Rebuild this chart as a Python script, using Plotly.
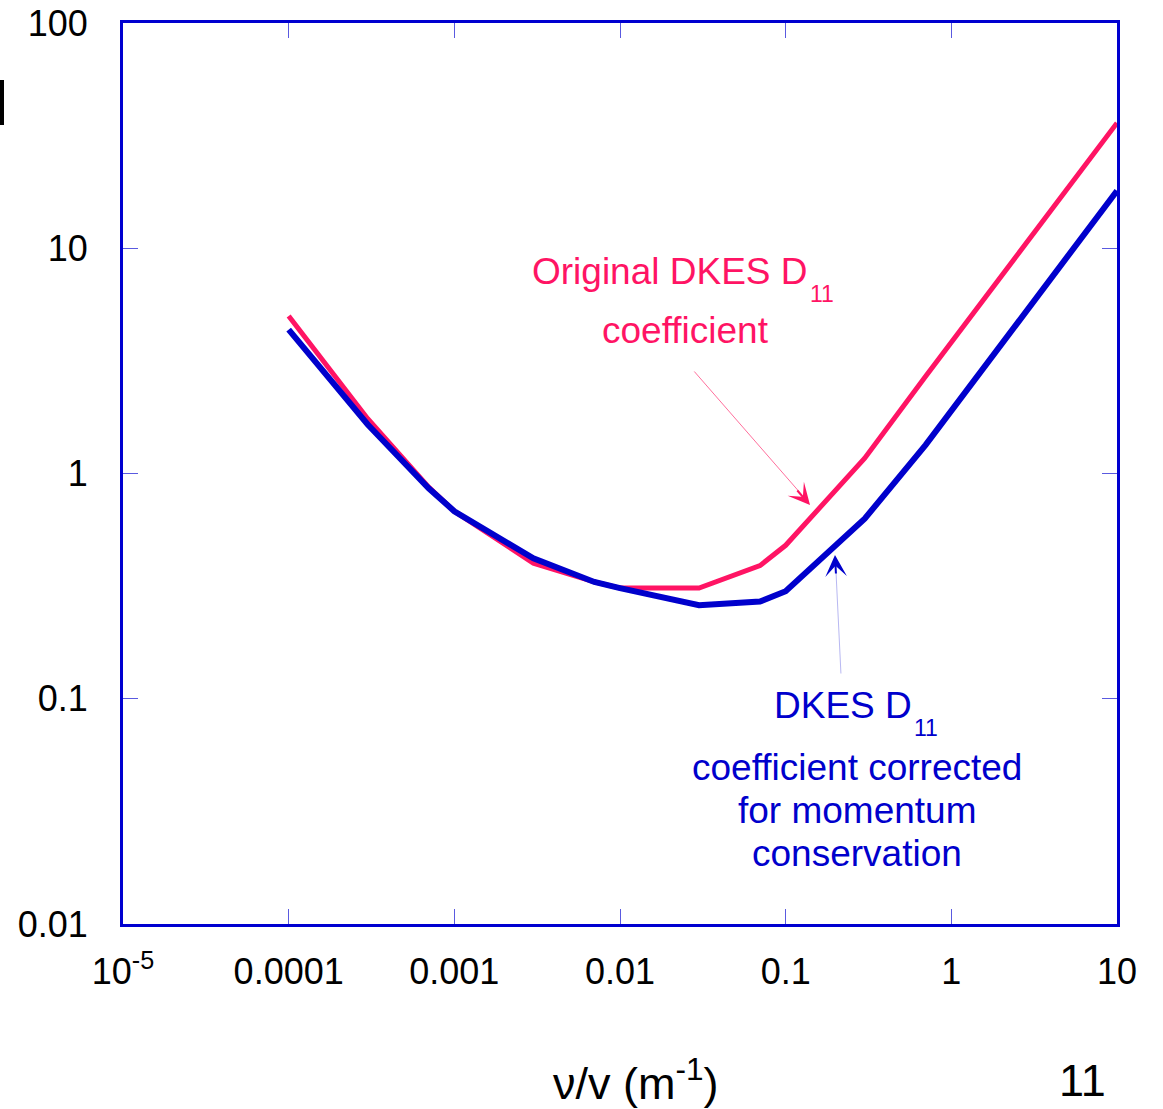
import plotly.graph_objects as go

x_orig = [1e-4, 3e-4, 7e-4, 1e-3, 3e-3, 7e-3, 1e-2, 3e-2, 7e-2, 0.1, 0.3, 0.7, 10]
y_orig = [5.0, 1.75, 0.87, 0.68, 0.40, 0.33, 0.31, 0.31, 0.39, 0.48, 1.17, 2.7, 36]
x_corr = [1e-4, 3e-4, 7e-4, 1e-3, 3e-3, 7e-3, 1e-2, 3e-2, 7e-2, 0.1, 0.3, 0.7, 10]
y_corr = [4.35, 1.65, 0.86, 0.68, 0.42, 0.33, 0.31, 0.26, 0.27, 0.30, 0.63, 1.34, 18]

x_tickvals = [1e-5, 1e-4, 1e-3, 1e-2, 1e-1, 1, 10]
x_ticktext = ["10<sup>-5</sup>", "0.0001", "0.001", "0.01", "0.1", "1", "10"]
y_tickvals = [0.01, 0.1, 1, 10, 100]
y_ticktext = ["0.01", "0.1", "1", "10", "100"]

PINK = "#FF1464"
BLUE = "#0000CC"
FRAME = "#0000D0"
TICK = "#5A5AE0"
FONT = "Liberation Sans, Arial, sans-serif"

fig = go.Figure()
fig.add_trace(go.Scatter(x=x_orig, y=y_orig, mode="lines",
                         line=dict(color=PINK, width=5), showlegend=False))
fig.add_trace(go.Scatter(x=x_corr, y=y_corr, mode="lines",
                         line=dict(color=BLUE, width=6), showlegend=False))

axis_common = dict(
    type="log", showgrid=False, zeroline=False, automargin=False,
    showline=True, linecolor=FRAME, linewidth=3, mirror="ticks",
    ticks="inside", ticklen=15, tickwidth=1, tickcolor=TICK,
    tickfont=dict(family=FONT, size=36, color="black"),
)

fig.update_xaxes(range=[-5, 1], tickvals=x_tickvals, ticktext=x_ticktext,
                 ticklabelstandoff=14, **axis_common)
fig.update_yaxes(range=[-2, 2], tickvals=y_tickvals, ticktext=y_ticktext,
                 ticklabelstandoff=25, **axis_common)

W, H = 994, 901
def px(xp):
    return (xp - 123) / W
def py(yp):
    return (924 - yp) / H
def lx(xp):
    return -5 + (xp - 123) / (W / 6)
def ly(yp):
    return 2 - (yp - 23) / (H / 4)

def label(text, xp, yp, size, color):
    return dict(xref="paper", yref="paper", x=px(xp), y=py(yp), text=text,
                showarrow=False, font=dict(family=FONT, size=size, color=color),
                xanchor="center", yanchor="middle")

TF = 37
ann = []
ann.append(label("Original DKES D", 670, 271, TF, PINK))
ann.append(label("11", 822, 294, 23, PINK))
ann.append(label("coefficient", 685, 330, TF, PINK))
# pink arrow: thin shaft + head
ann.append(dict(x=lx(802), y=ly(495), xref="x", yref="y", ax=lx(693), ay=ly(370), axref="x", ayref="y",
                showarrow=True, arrowhead=0, arrowwidth=1, arrowcolor="#FF6F9C", text=""))
ann.append(dict(x=lx(810), y=ly(505), xref="x", yref="y", ax=lx(796), ay=ly(489), axref="x", ayref="y",
                showarrow=True, arrowhead=3, arrowsize=1.8, arrowwidth=2, arrowcolor=PINK, text=""))
# blue labels
ann.append(label("DKES D", 843, 705, TF, BLUE))
ann.append(label("11", 926, 728, 23, BLUE))
ann.append(label("coefficient corrected", 857, 767, TF, BLUE))
ann.append(label("for momentum", 857, 810, TF, BLUE))
ann.append(label("conservation", 857, 853, TF, BLUE))
# blue arrow: thin shaft + head
ann.append(dict(x=lx(836), y=ly(572), xref="x", yref="y", ax=lx(841), ay=ly(675), axref="x", ayref="y",
                showarrow=True, arrowhead=0, arrowwidth=1, arrowcolor="#B8B8F2", text=""))
ann.append(dict(x=lx(835), y=ly(555), xref="x", yref="y", ax=lx(836), ay=ly(575), axref="x", ayref="y",
                showarrow=True, arrowhead=3, arrowsize=1.8, arrowwidth=2, arrowcolor=BLUE, text=""))
# x title and page number
ann.append(label("ν/v (m<sup>-1</sup>)", 636, 1080, 45, "black"))
ann.append(label("11", 1082, 1080, 45, "black"))

fig.update_layout(
    width=1163, height=1109,
    margin=dict(l=123, r=46, t=23, b=185),
    paper_bgcolor="white", plot_bgcolor="white",
    annotations=ann,
    shapes=[dict(type="line", xref="paper", yref="paper",
                 x0=px(2), x1=px(2), y0=py(80), y1=py(125),
                 line=dict(color="black", width=4))],
)

fig.write_html("out.html")
